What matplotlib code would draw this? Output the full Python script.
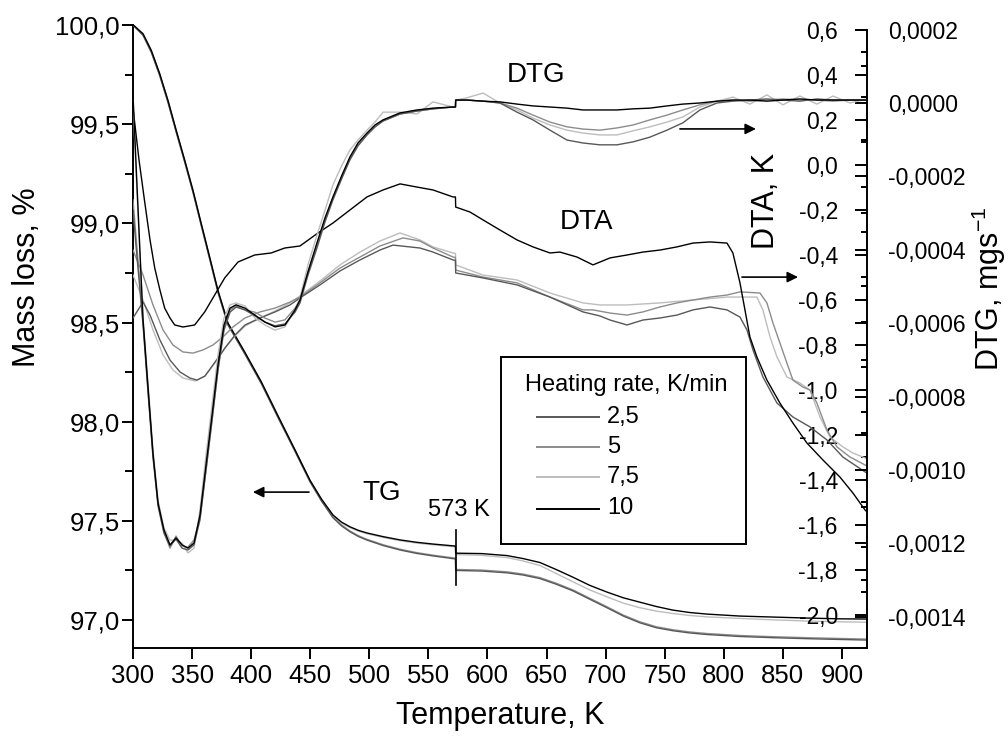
import matplotlib
matplotlib.use("Agg")
import matplotlib.pyplot as plt
from matplotlib.ticker import FixedLocator, FuncFormatter
from matplotlib.lines import Line2D
from matplotlib.patches import Rectangle

plt.rcParams['font.family'] = ['Liberation Sans', 'DejaVu Sans']
plt.rcParams['mathtext.fontset'] = 'custom'
plt.rcParams['mathtext.rm'] = 'Liberation Sans'
plt.rcParams['mathtext.it'] = 'Liberation Sans:italic'
plt.rcParams['mathtext.bf'] = 'Liberation Sans:bold'
plt.rcParams['axes.unicode_minus'] = False

# ---------------- data ----------------
rates = ['2,5', '5', '7,5', '10']
rate_colors = {'2,5': '#585858', '5': '#8c8c8c', '7,5': '#bdbdbd', '10': '#000000'}

# TG (mass loss, %)
T_tg = [300.0, 301.4, 308.5, 315.5, 322.6, 329.6, 336.6, 343.8, 350.8, 357.8,
        364.9, 371.9, 380.4, 394.5, 408.6, 422.7, 436.8, 449.8, 459.5, 469.2,
        476.4, 483.6, 490.8, 498.0, 512.0, 526.0, 540.0, 554.0, 572.9, 573.1,
        595.0, 616.5, 630.0, 644.4, 658.0, 672.3, 686.5, 701.1, 715.0, 729.0,
        743.0, 757.0, 771.0, 785.7, 813.7, 841.6, 870.4, 898.3, 921.2]
tg_10 = [100.000, 99.994, 99.956, 99.872, 99.755, 99.620, 99.469, 99.318, 99.166, 98.998,
         98.830, 98.662, 98.497, 98.352, 98.201, 98.030, 97.862, 97.705, 97.610, 97.530,
         97.494, 97.470, 97.452, 97.439, 97.420, 97.404, 97.392, 97.383, 97.373, 97.337,
         97.335, 97.325, 97.310, 97.290, 97.255, 97.216, 97.175, 97.141, 97.112, 97.090,
         97.068, 97.050, 97.038, 97.030, 97.020, 97.015, 97.010, 97.006, 97.005]
tg_7_5 = [100.000, 99.993, 99.953, 99.869, 99.752, 99.617, 99.466, 99.315, 99.163, 98.995,
          98.827, 98.659, 98.494, 98.349, 98.198, 98.027, 97.859, 97.702, 97.607, 97.526,
          97.490, 97.466, 97.448, 97.435, 97.416, 97.400, 97.388, 97.379, 97.369, 97.330,
          97.326, 97.315, 97.298, 97.275, 97.235, 97.193, 97.152, 97.117, 97.085, 97.062,
          97.045, 97.033, 97.023, 97.016, 97.008, 97.001, 96.995, 96.991, 96.989]
tg_5 = [100.000, 99.992, 99.950, 99.865, 99.748, 99.613, 99.462, 99.311, 99.159, 98.991,
        98.823, 98.655, 98.490, 98.346, 98.195, 98.024, 97.857, 97.700, 97.603, 97.520,
        97.480, 97.449, 97.425, 97.407, 97.379, 97.357, 97.340, 97.327, 97.312, 97.255,
        97.252, 97.243, 97.232, 97.214, 97.186, 97.152, 97.110, 97.067, 97.025, 96.991,
        96.966, 96.951, 96.940, 96.932, 96.922, 96.916, 96.911, 96.907, 96.904]
tg_2_5 = [100.000, 99.991, 99.948, 99.862, 99.745, 99.610, 99.459, 99.308, 99.156, 98.988,
          98.820, 98.652, 98.487, 98.343, 98.192, 98.021, 97.854, 97.697, 97.600, 97.516,
          97.475, 97.445, 97.421, 97.403, 97.375, 97.353, 97.336, 97.323, 97.308, 97.250,
          97.247, 97.238, 97.227, 97.209, 97.181, 97.147, 97.105, 97.062, 97.020, 96.986,
          96.961, 96.946, 96.935, 96.927, 96.917, 96.911, 96.906, 96.902, 96.899]

# DTA (K)
T_dta_10 = [300.0, 305.1, 309.9, 314.4, 318.4, 322.8, 326.8, 331.3, 335.3, 342.3,
            352.2, 360.7, 369.1, 377.6, 388.9, 403.0, 417.0, 428.4, 441.3, 456.6,
            469.2, 483.6, 498.0, 511.6, 526.0, 540.3, 553.9, 570.8, 572.9, 573.1,
            585.2, 596.2, 610.6, 625.0, 638.5, 652.9, 661.3, 675.7, 689.3, 703.7,
            718.1, 731.6, 746.0, 760.4, 773.9, 788.3, 802.7, 807.7, 813.7, 817.9,
            822.1, 828.0, 836.5, 847.5, 858.5, 870.4, 883.9, 898.3, 909.3, 919.5, 921.2]
dta_10 = [0.253, 0.022, -0.164, -0.333, -0.458, -0.556, -0.636, -0.680, -0.711, -0.720,
          -0.711, -0.653, -0.578, -0.502, -0.431, -0.400, -0.391, -0.369, -0.360, -0.302,
          -0.258, -0.200, -0.142, -0.111, -0.084, -0.098, -0.111, -0.142, -0.142, -0.187,
          -0.209, -0.244, -0.289, -0.333, -0.364, -0.391, -0.387, -0.409, -0.444, -0.413,
          -0.400, -0.387, -0.378, -0.364, -0.347, -0.342, -0.347, -0.391, -0.524, -0.644,
          -0.764, -0.853, -0.956, -1.058, -1.147, -1.236, -1.311, -1.387, -1.458, -1.533, -1.542]

T_dta_5 = [300.0, 308.5, 316.9, 325.4, 333.8, 342.3, 350.8, 359.2, 367.7, 376.2,
           384.6, 394.8, 407.5, 420.2, 432.9, 441.3, 458.2, 475.2, 492.1, 509.0,
           528.5, 542.9, 553.9, 570.8, 572.9, 573.1, 596.2, 625.0, 652.9, 680.8,
           689.3, 703.7, 718.1, 731.6, 746.0, 760.4, 773.9, 788.3, 802.7, 813.7,
           830.6, 836.5, 841.6, 847.5, 853.4, 858.5, 867.0, 872.9, 878.8, 887.3,
           895.8, 906.8, 919.5, 921.2]
dta_5 = [-0.378, -0.489, -0.622, -0.733, -0.800, -0.831, -0.836, -0.822, -0.800, -0.764,
         -0.720, -0.680, -0.653, -0.636, -0.609, -0.587, -0.524, -0.458, -0.409, -0.360,
         -0.324, -0.338, -0.369, -0.409, -0.411, -0.467, -0.498, -0.524, -0.587, -0.644,
         -0.644, -0.658, -0.667, -0.653, -0.631, -0.613, -0.600, -0.587, -0.578, -0.564,
         -0.569, -0.613, -0.702, -0.791, -0.880, -0.956, -0.987, -1.000, -1.058, -1.178,
         -1.253, -1.298, -1.333, -1.338]

T_dta_7_5 = [300.0, 308.5, 316.9, 325.4, 333.8, 342.3, 352.5, 360.9, 369.4, 377.9,
             386.3, 394.8, 407.5, 420.2, 432.9, 441.3, 458.2, 475.2, 492.1, 509.0,
             526.0, 542.9, 553.9, 570.8, 572.9, 573.1, 596.2, 625.0, 652.9, 680.8,
             695.2, 718.1, 746.0, 773.9, 802.7, 828.0, 833.1, 839.1, 845.0, 853.4,
             864.4, 872.9, 881.4, 889.8, 900.8, 909.3, 919.5, 921.2]
dta_7_5 = [-0.489, -0.600, -0.733, -0.844, -0.911, -0.947, -0.960, -0.938, -0.880, -0.813,
           -0.760, -0.716, -0.680, -0.649, -0.613, -0.582, -0.516, -0.444, -0.387, -0.338,
           -0.302, -0.333, -0.364, -0.391, -0.393, -0.444, -0.489, -0.511, -0.569, -0.613,
           -0.622, -0.622, -0.613, -0.600, -0.587, -0.587, -0.644, -0.764, -0.853, -0.942,
           -0.969, -1.000, -1.120, -1.209, -1.253, -1.280, -1.302, -1.307]

T_dta_2_5 = [300.0, 308.5, 314.4, 322.8, 331.3, 339.8, 348.2, 354.2, 360.9, 369.4,
             377.9, 386.3, 394.8, 407.5, 420.2, 432.9, 441.3, 458.2, 475.2, 492.1,
             509.0, 520.0, 542.9, 553.9, 570.8, 572.9, 573.1, 596.2, 625.0, 652.9,
             680.8, 695.2, 703.7, 718.1, 731.6, 746.0, 760.4, 773.9, 788.3, 802.7,
             813.7, 819.6, 824.7, 833.1, 845.0, 858.5, 872.9, 887.3, 900.8, 919.5, 921.2]
dta_2_5 = [-0.680, -0.609, -0.667, -0.778, -0.867, -0.920, -0.947, -0.956, -0.938, -0.876,
           -0.813, -0.756, -0.711, -0.680, -0.653, -0.622, -0.591, -0.533, -0.471, -0.422,
           -0.378, -0.356, -0.369, -0.387, -0.422, -0.424, -0.480, -0.502, -0.533, -0.587,
           -0.653, -0.671, -0.689, -0.711, -0.689, -0.680, -0.667, -0.644, -0.631, -0.644,
           -0.676, -0.733, -0.822, -0.942, -1.058, -1.120, -1.164, -1.222, -1.298, -1.364, -1.369]

# DTG (mg/s), values in units of 1e-4 mg/s
DTG_UNIT = 1e-4
T_dtg = [300.0, 302.5, 305.9, 308.5, 312.7, 316.9, 321.2, 326.2, 331.3, 336.4,
         341.5, 346.5, 351.6, 356.7, 361.8, 366.9, 371.9, 377.0, 382.1, 387.2,
         394.8, 403.2, 411.7, 420.2, 428.6, 437.1, 441.3, 448.1, 455.7, 462.5,
         469.2, 476.9, 483.6, 490.4, 498.0, 504.8, 511.6, 526.0, 540.3, 553.9,
         570.8, 572.9, 573.1, 582.4, 596.2, 610.6, 625.0, 638.5, 652.9, 667.3,
         680.8, 695.2, 709.6, 723.1, 737.5, 751.9, 765.4, 779.8, 794.2, 807.7,
         822.1, 836.5, 850.1, 864.4, 878.8, 892.4, 906.8, 921.2]
dtg_10 = [0.22, -1.61, -4.06, -5.91, -7.74, -9.54, -10.90, -11.63, -12.04, -11.85,
          -12.04, -12.13, -11.99, -11.23, -9.86, -8.50, -7.14, -6.05, -5.59, -5.50,
          -5.59, -5.78, -5.97, -6.10, -6.05, -5.64, -5.37, -4.60, -3.81, -3.13,
          -2.56, -1.96, -1.47, -1.09, -0.82, -0.60, -0.46, -0.27, -0.19, -0.14,
          -0.11, -0.11, 0.08, 0.08, 0.05, 0.03, -0.03, -0.08, -0.11, -0.14,
          -0.19, -0.19, -0.19, -0.16, -0.14, -0.08, -0.03, 0.00, 0.05, 0.08,
          0.08, 0.05, 0.08, 0.11, 0.08, 0.08, 0.08, 0.08]
dtg_7_5 = [0.08, -1.83, -4.14, -5.86, -7.63, -9.46, -10.82, -11.58, -11.91, -11.91,
           -11.99, -12.26, -12.13, -11.09, -9.59, -8.23, -6.87, -5.86, -5.50, -5.45,
           -5.53, -5.86, -6.05, -6.19, -6.10, -5.64, -5.31, -4.41, -3.60, -2.92,
           -2.23, -1.69, -1.28, -1.01, -0.74, -0.52, -0.25, -0.25, -0.30, 0.03,
           -0.11, -0.11, 0.08, 0.14, 0.27, 0.00, -0.19, -0.41, -0.60, -0.74,
           -0.82, -0.87, -0.87, -0.76, -0.65, -0.52, -0.38, -0.11, 0.05, 0.16,
           -0.03, 0.22, -0.05, 0.19, -0.03, 0.19, 0.00, 0.11]
dtg_5 = [-2.64, -3.62, -4.93, -5.97, -7.82, -9.59, -10.95, -11.69, -12.13, -11.80,
         -12.07, -12.10, -11.91, -11.31, -10.00, -8.64, -7.28, -6.13, -5.64, -5.53,
         -5.64, -5.70, -5.86, -5.97, -5.91, -5.59, -5.37, -4.60, -3.87, -3.19,
         -2.59, -2.02, -1.50, -1.14, -0.87, -0.65, -0.49, -0.30, -0.22, -0.16,
         -0.11, -0.11, 0.08, 0.08, 0.05, 0.00, -0.14, -0.33, -0.52, -0.65,
         -0.71, -0.74, -0.68, -0.60, -0.46, -0.33, -0.19, -0.05, 0.05, 0.08,
         0.05, 0.08, 0.11, 0.08, 0.08, 0.05, 0.08, 0.08]
dtg_2_5 = [-2.92, -3.87, -5.10, -6.05, -7.87, -9.65, -10.98, -11.72, -12.07, -11.88,
           -12.13, -12.18, -12.04, -11.36, -10.00, -8.64, -7.28, -6.19, -5.70, -5.56,
           -5.64, -5.80, -5.97, -6.07, -6.02, -5.70, -5.45, -4.69, -3.95, -3.24,
           -2.64, -2.04, -1.55, -1.17, -0.87, -0.65, -0.49, -0.30, -0.22, -0.16,
           -0.11, -0.11, 0.08, 0.08, 0.05, 0.00, -0.25, -0.46, -0.74, -1.01,
           -1.09, -1.14, -1.14, -1.06, -0.93, -0.74, -0.54, -0.19, 0.00, 0.05,
           0.08, 0.11, 0.08, 0.05, 0.11, 0.08, 0.08, 0.08]

x_ticks = [300, 350, 400, 450, 500, 550, 600, 650, 700, 750, 800, 850, 900]
tg_ticks = [97.0, 97.5, 98.0, 98.5, 99.0, 99.5, 100.0]
dta_ticks = [0.6, 0.4, 0.2, 0.0, -0.2, -0.4, -0.6, -0.8, -1.0, -1.2, -1.4, -1.6, -1.8, -2.0]
dtg_ticks = [0.0002, 0.0, -0.0002, -0.0004, -0.0006, -0.0008, -0.0010, -0.0012, -0.0014]

tg_data = {'2,5': tg_2_5, '5': tg_5, '7,5': tg_7_5, '10': tg_10}
dta_data = {'2,5': (T_dta_2_5, dta_2_5), '5': (T_dta_5, dta_5),
            '7,5': (T_dta_7_5, dta_7_5), '10': (T_dta_10, dta_10)}
dtg_data = {'2,5': dtg_2_5, '5': dtg_5, '7,5': dtg_7_5, '10': dtg_10}

# ---------------- figure ----------------
W, H = 1008, 746
fig = plt.figure(figsize=(W / 100, H / 100), dpi=100)
L, R, T, B = 133, 867, 25, 648
ax = fig.add_axes([L / W, 1 - B / H, (R - L) / W, (B - T) / H])
ax2 = ax.twinx()
ax3 = ax.twinx()
for a in (ax2, ax3):
    a.patch.set_visible(False)

LW = 1.0
zorders = {'7,5': 2, '5': 3, '2,5': 4, '10': 5}
for r in rates:
    c = rate_colors[r]
    ax.plot(T_tg, tg_data[r], color=c, lw=LW, zorder=zorders[r])
    tx, vy = dta_data[r]
    ax2.plot(tx, vy, color=c, lw=LW, zorder=zorders[r])
    ax3.plot(T_dtg, [v * DTG_UNIT for v in dtg_data[r]], color=c, lw=LW, zorder=zorders[r])

# limits
ax.set_xlim(300, 921.2)
ax.set_ylim(96.859, 100.0)
ax2.set_ylim(-2.1467, 0.6222)
ax3.set_ylim(-0.001485, 0.0002125)


def comma(fmt):
    def f(v, pos):
        s = fmt.format(v)
        if s.startswith('-') and float(s.replace(',', '.').replace('-', '')) == 0:
            s = s[1:]
        return s.replace('.', ',')
    return FuncFormatter(f)


# main axis styling
for s in ('top', 'right'):
    ax.spines[s].set_visible(False)
for s in ('left', 'bottom'):
    ax.spines[s].set_linewidth(1.4)
ax.xaxis.set_major_locator(FixedLocator(x_ticks))
ax.xaxis.set_major_formatter(FuncFormatter(lambda v, p: f"{v:.0f}"))
ax.yaxis.set_major_locator(FixedLocator(tg_ticks))
ax.yaxis.set_minor_locator(FixedLocator([97.25, 97.75, 98.25, 98.75, 99.25, 99.75]))
ax.yaxis.set_major_formatter(comma("{:.1f}"))
ax.tick_params(axis='both', which='major', direction='out', length=8, width=1.4,
               labelsize=18.5, color='black')
ax.tick_params(axis='y', which='major', pad=1.5)
ax.tick_params(axis='x', which='major', pad=3.5)
ax.tick_params(axis='y', which='minor', direction='out', length=5.5, width=1.4)

ax.set_xlabel('Temperature, K', fontsize=22)
ax.xaxis.set_label_coords(0.5, (B - 701) / (B - T))
ax.set_ylabel('Mass loss, %', fontsize=22)
ax.yaxis.set_label_coords((41.5 - L) / (R - L), (B - 277) / (B - T))

# DTA axis (labels inside, left of the right spine)
for s in ax2.spines.values():
    s.set_visible(False)
ax2.yaxis.set_major_locator(FixedLocator(dta_ticks))
ax2.yaxis.set_minor_locator(FixedLocator([0.5, 0.3, 0.1, -0.1, -0.3, -0.5, -0.7, -0.9,
                                          -1.1, -1.3, -1.5, -1.7, -1.9]))
ax2.yaxis.set_major_formatter(comma("{:.1f}"))
ax2.tick_params(axis='y', which='major', direction='in', length=9, width=1.4,
                labelsize=16.5, pad=-21)
ax2.tick_params(axis='y', which='minor', direction='in', length=4.5, width=1.4)
for t in ax2.yaxis.get_major_ticks():
    t.label2.set_horizontalalignment('right')
ax2.set_ylabel('DTA, K', fontsize=22)
ax2.yaxis.set_label_coords((751 - L) / (R - L), (B - 201) / (B - T))

# DTG axis
for s in ('top', 'left', 'bottom'):
    ax3.spines[s].set_visible(False)
ax3.spines['right'].set_linewidth(1.4)
ax3.spines['right'].set_bounds(-0.001485, 0.0002)
ax3.yaxis.set_major_locator(FixedLocator(dtg_ticks))
ax3.yaxis.set_minor_locator(FixedLocator([0.0001, -0.0001, -0.0003, -0.0005, -0.0007,
                                          -0.0009, -0.0011, -0.0013]))
ax3.yaxis.set_major_formatter(comma("{:.4f}"))
ax3.tick_params(axis='y', which='major', direction='in', length=9, width=1.4,
                labelsize=16.5, pad=15)
ax3.tick_params(axis='y', which='minor', direction='in', length=4.5, width=1.4)
ax3.set_ylabel('DTG, mgs$^{-1}$', fontsize=22)
ax3.yaxis.set_label_coords((970 - L) / (R - L), (B - 289) / (B - T))

# annotations (main axis data coordinates: T, mass %)
ax.text(641.0, 99.748, 'DTG', fontsize=20, ha='center', va='center')
ax.text(684.2, 99.007, 'DTA', fontsize=20, ha='center', va='center')
ax.text(510.7, 97.640, 'TG', fontsize=20, ha='center', va='center')
ax.text(575.9, 97.555, '573 K', fontsize=17, ha='center', va='center')
ax.plot([573, 573], [97.176, 97.454], color='black', lw=1.2, zorder=6)
arrow = dict(arrowstyle='-|>', color='black', lw=1.2, mutation_scale=16,
             shrinkA=0, shrinkB=0)
ax.annotate('', xy=(401.5, 97.645), xytext=(448.9, 97.645), arrowprops=arrow)
ax.annotate('', xy=(827.2, 99.476), xytext=(762.9, 99.476), arrowprops=arrow)
ax.annotate('', xy=(862.8, 98.729), xytext=(815.4, 98.729), arrowprops=arrow)

# legend box (drawn in figure pixels)
def fx(px):
    return px / W


def fy(py):
    return 1 - py / H


fig.add_artist(Rectangle((fx(501), fy(544)), fx(746) - fx(501), fy(357) - fy(544),
                         transform=fig.transFigure, facecolor='white',
                         edgecolor='black', lw=1.4, zorder=10))
fig.text(fx(525), fy(385), 'Heating rate, K/min', fontsize=17, ha='left', va='center',
         zorder=11)
for r, py in zip(rates, [416.7, 446.7, 477, 508.5]):
    fig.add_artist(Line2D([fx(537), fx(599)], [fy(py), fy(py)], transform=fig.transFigure,
                          color=rate_colors[r], lw=1.4, zorder=11))
    fig.text(fx(607), fy(py), r, fontsize=17, ha='left', va='center', zorder=11)

fig.savefig('out.png', dpi=100)
